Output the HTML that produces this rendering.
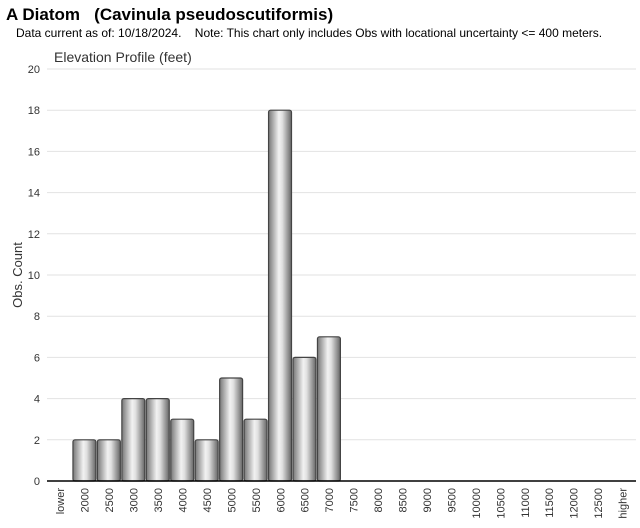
<!DOCTYPE html>
<html><head><meta charset="utf-8"><style>
body{margin:0;background:#fff;width:640px;height:523px;overflow:hidden;font-family:"Liberation Sans",sans-serif}
</style></head><body>
<svg width="640" height="523" xmlns="http://www.w3.org/2000/svg">
<defs>
<linearGradient id="cyl" x1="0" x2="1" y1="0" y2="0">
<stop offset="0" stop-color="#777"/><stop offset="0.45" stop-color="#f2f2f2"/><stop offset="0.6" stop-color="#e0e0e0"/><stop offset="1" stop-color="#666"/>
</linearGradient>
</defs>
<text x="6" y="20" font-size="17" font-weight="bold" fill="#000">A Diatom &#160;&#160;(Cavinula pseudoscutiformis)</text>
<text x="16" y="37" font-size="12" fill="#000">Data current as of: 10/18/2024. &#160;&#160;&#160;Note: This chart only includes Obs with locational uncertainty &lt;= 400 meters.</text>
<text x="54" y="62" font-size="14" fill="#333">Elevation Profile (feet)</text>
<text transform="translate(22,275) rotate(-90)" text-anchor="middle" font-size="13" fill="#333">Obs. Count</text>
<g id="grid"></g><g id="bars"></g><g id="xl"></g>
<line x1="47" y1="481" x2="636" y2="481" stroke="#000" stroke-width="1.5"/>
</svg>
<script>
const categories=["lower","2000","2500","3000","3500","4000","4500","5000","5500","6000","6500","7000","7500","8000","8500","9000","9500","10000","10500","11000","11500","12000","12500","higher"];
const counts=[0,2,2,4,4,3,2,5,3,18,6,7,0,0,0,0,0,0,0,0,0,0,0,0];
const yTicks=[0,2,4,6,8,10,12,14,16,18,20];
const ns="http://www.w3.org/2000/svg";
const x0=48,cw=24.45,y0=481,yMax=20,ph=412;
const y=v=>y0-v/yMax*ph;
const xs=i=>x0+i*cw;
function mk(t,a,p){const e=document.createElementNS(ns,t);for(const k in a)e.setAttribute(k,a[k]);p.appendChild(e);return e;}
const g=document.getElementById('grid'),b=document.getElementById('bars'),xl=document.getElementById('xl');
yTicks.forEach(v=>{
 if(v>0){const l=mk('line',{x1:47,x2:636,y1:y(v),y2:y(v),stroke:'#e2e2e2'},g);
 
 }
 const t=mk('text',{x:40,y:y(v)+4,'text-anchor':'end','font-size':11,fill:'#333'},g);t.textContent=v;
 
 
});
categories.forEach((c,i)=>{
 const v=counts[i];
 if(v>0){const r=mk('rect',{x:xs(i)+0.5,y:y(v),width:cw-1.5,height:y0-y(v),rx:2,fill:'url(#cyl)',stroke:'#444','stroke-width':1.2},b);
 
 }
 const cx=xs(i)+cw/2+4;
 const t=mk('text',{transform:`translate(${cx},488) rotate(-90)`,'text-anchor':'end','font-size':11,fill:'#333'},xl);t.textContent=c;
 
 
});
</script>
</body></html>
